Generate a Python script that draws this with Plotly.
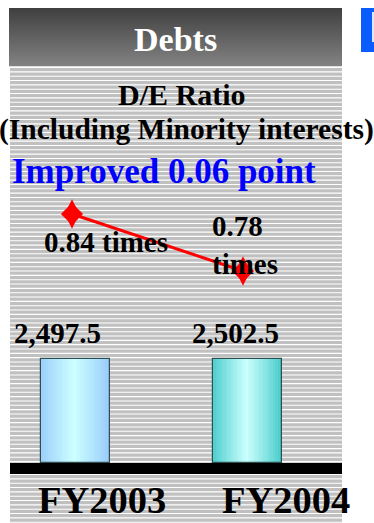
import plotly.graph_objects as go

# ---- data -------------------------------------------------------------
years = ["FY2003", "FY2004"]
debt_totals = [2497.5, 2502.5]          # interest-bearing debt
de_ratio = [0.84, 0.78]                 # D/E ratio (times)
title_text = "Debts"
subtitle_lines = ["D/E Ratio", "(Including Minority interests)"]

W, H = 374, 523
SERIF = "Liberation Serif, Times New Roman, serif"


def px(x):
    return x / W


def py(y):
    return 1 - y / H


def lerp(c1, c2, t):
    return "rgb(%d,%d,%d)" % tuple(round(a + (b - a) * t) for a, b in zip(c1, c2))


fig = go.Figure()

# ---- bars with a horizontal cylinder-like gradient ---------------------
bar_w = 0.4
n_slices = 28
edge_cols = [(150, 200, 252), (64, 200, 200)]
mid_cols = [(204, 255, 255), (204, 255, 255)]
for i in range(n_slices):
    t = (i + 0.5) / n_slices
    k = max(0.0, 1 - abs(t - 0.48) / 0.52)
    k = k ** 0.9
    cols = [lerp(e, m, k) for e, m in zip(edge_cols, mid_cols)]
    sw = bar_w / n_slices
    fig.add_trace(go.Bar(
        x=years, y=debt_totals,
        width=sw * (1.25 if i < n_slices - 1 else 1.0),
        offset=-bar_w / 2 + i * sw,
        marker=dict(color=cols, line=dict(width=0)),
        hoverinfo="skip", showlegend=False,
    ))
# outline
fig.add_trace(go.Bar(
    x=years, y=debt_totals, width=bar_w, offset=-bar_w / 2,
    marker=dict(color="rgba(0,0,0,0)", line=dict(color="#2f4f4f", width=1.2)),
    hoverinfo="skip", showlegend=False,
))

# ---- D/E ratio line --------------------------------------------------
fig.add_trace(go.Scatter(
    x=years, y=de_ratio, xaxis="x2", yaxis="y2", mode="lines",
    line=dict(color="#ff0000", width=3), hoverinfo="skip", showlegend=False,
))
for sym, size in (("diamond-tall", 21), ("diamond", 17)):
    fig.add_trace(go.Scatter(
        x=years, y=de_ratio, xaxis="x2", yaxis="y2", mode="markers",
        marker=dict(symbol=sym, size=size, color="#ff0000", line=dict(width=0)),
        hoverinfo="skip", showlegend=False,
    ))

# ---- background shapes -------------------------------------------------
shapes = []
# striped panel
shapes.append(dict(type="rect", xref="paper", yref="paper", layer="below",
                   x0=px(10), x1=px(342), y0=py(H), y1=py(67),
                   fillcolor="#c0c0c0", line=dict(width=0)))
period = 4.33
y = 67.0
while y < H:
    shapes.append(dict(type="rect", xref="paper", yref="paper", layer="below",
                       x0=px(10), x1=px(342), y0=py(y + 1.1), y1=py(y),
                       fillcolor="#ffffff", line=dict(width=0)))
    y += period
# header with vertical gradient
top_c, bot_c = (64, 64, 64), (130, 130, 130)
hy0, hy1 = 8, 66
steps = 58
for i in range(steps):
    ya = hy0 + (hy1 - hy0) * i / steps
    yb = hy0 + (hy1 - hy0) * (i + 1) / steps
    shapes.append(dict(type="rect", xref="paper", yref="paper", layer="below",
                       x0=px(9), x1=px(342), y0=py(yb + 0.3), y1=py(ya),
                       fillcolor=lerp(top_c, bot_c, i / (steps - 1)), line=dict(width=0)))
# blue tab on the right
shapes.append(dict(type="rect", xref="paper", yref="paper", layer="below",
                   x0=px(361), x1=px(374), y0=py(52), y1=py(8),
                   fillcolor="#0a5cff", line=dict(width=0)))
shapes.append(dict(type="rect", xref="paper", yref="paper", layer="below",
                   x0=px(372), x1=px(374), y0=py(42), y1=py(12),
                   fillcolor="#dde8ff", line=dict(width=0)))
# thick base line
shapes.append(dict(type="rect", xref="paper", yref="paper", layer="above",
                   x0=px(10), x1=px(342), y0=py(474), y1=py(463),
                   fillcolor="#000000", line=dict(width=0)))

# ---- text --------------------------------------------------------------
ann = []


def text(x, y, s, size, color="#000000", **kw):
    d = dict(xref="paper", yref="paper", x=px(x), y=py(y), text=s, showarrow=False,
             font=dict(family=SERIF, size=size, color=color),
             xanchor="center", yanchor="middle")
    d.update(kw)
    ann.append(d)


text(175, 40, "<b>%s</b>" % title_text, 34, "#ffffff")
text(181.5, 95, "<b>%s</b>" % subtitle_lines[0], 30)
text(186, 129, "<b>%s</b>" % subtitle_lines[1], 29.5)
text(163.5, 171, "<b>Improved %.2f point</b>" % (de_ratio[0] - de_ratio[1]), 35, "#0000ff")

# ratio labels
text(106, 242, "<b>%.2f times</b>" % de_ratio[0], 29)
text(210, 245, "<b>%.2f<br>times</b>" % de_ratio[1], 29, xanchor="left", align="left")

# bar value labels
for yr, v, dx in zip(years, debt_totals, (-18.5, -12.5)):
    ann.append(dict(xref="x", yref="y", x=yr, y=v, text="<b>%s</b>" % f"{v:,.1f}",
                    showarrow=False, xshift=dx, yshift=8, yanchor="bottom",
                    font=dict(family=SERIF, size=29, color="#000000")))

# category labels, sitting right on the bottom edge of the panel
for yr, dx in zip(years, (26, 38)):
    ann.append(dict(xref="x", yref="paper", x=yr, y=0, text="<b>%s</b>" % yr,
                    showarrow=False, xshift=dx, yanchor="bottom",
                    font=dict(family=SERIF, size=38.5, color="#000000")))

# ---- layout ------------------------------------------------------------
fig.update_layout(
    width=W, height=H,
    margin=dict(l=0, r=0, t=0, b=0),
    paper_bgcolor="#ffffff", plot_bgcolor="rgba(0,0,0,0)",
    barmode="overlay", bargap=0,
    showlegend=False,
    xaxis=dict(domain=[px(10), px(342)], type="category", range=[-0.3797, 1.545],
               visible=False, fixedrange=True),
    yaxis=dict(domain=[py(463), py(67)], range=[0, 9510], visible=False, fixedrange=True),
    xaxis2=dict(domain=[px(10), px(342)], type="category", overlaying="x",
                range=[-0.3626, 1.579], visible=False, fixedrange=True),
    yaxis2=dict(domain=[py(463), py(67)], overlaying="y", range=[0.5779, 0.9947],
                visible=False, fixedrange=True),
    shapes=shapes, annotations=ann,
)

fig.write_html("out.html")
